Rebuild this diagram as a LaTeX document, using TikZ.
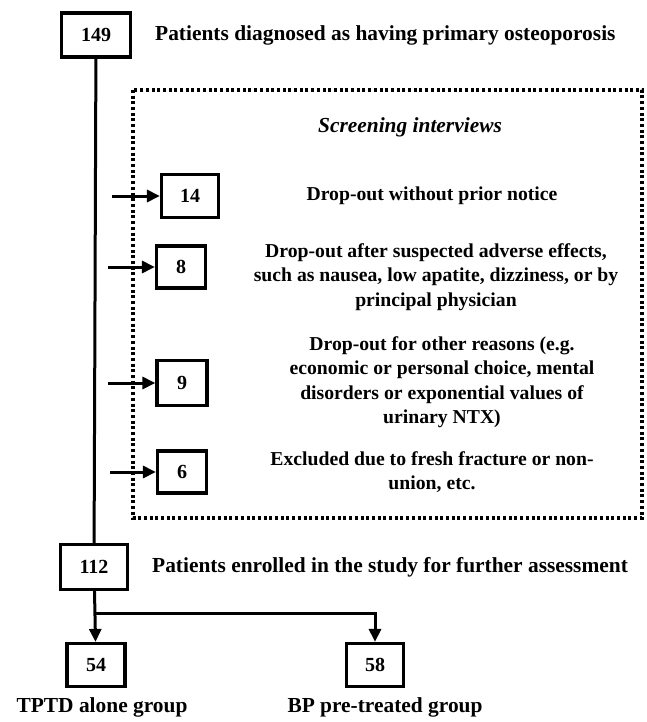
\documentclass[tikz,border=0pt]{standalone}
\usepackage{fontspec}
\setmainfont{Liberation Serif}
\usetikzlibrary{arrows.meta,positioning}

\begin{document}
\begin{tikzpicture}[x=1pt,y=-1pt]
  \tikzset{
    zahl/.style={rectangle, draw=black, line width=3.2pt, inner sep=0pt,
                 minimum width=56pt, minimum height=42pt,
                 font=\bfseries\fontsize{20}{22}\selectfont},
    info/.style={align=center, inner sep=0pt,
                 font=\bfseries\fontsize{19.7}{24.5}\selectfont},
    kopf/.style={inner sep=0pt, font=\bfseries\fontsize{21.4}{24}\selectfont},
    pfeil/.style={-{Triangle[length=13pt,width=12pt]}, line width=3pt},
    linie/.style={line width=3pt}
  }
  \useasboundingbox (0,0) rectangle (647,722);

  % screening frame
  \draw[line width=3.2pt, dash pattern=on 3pt off 2.7pt] (133,90) rectangle (642,518);
  \node[kopf, font=\bfseries\itshape\fontsize{21.4}{24}\selectfont] (screen) at (410,127) {Screening interviews};

  \node[zahl, minimum width=69pt, minimum height=44pt] (n149) at (96,35) {149};
  \node[kopf, anchor=west] (t149) at (155,35) {Patients diagnosed as having primary osteoporosis};

  \node[zahl, minimum width=67pt, minimum height=45pt] (n112) at (94,567) {112};
  \node[kopf, anchor=west] (t112) at (152,567) {Patients enrolled in the study for further assessment};

  \draw[linie] (n149) -- (n112);

  \node[zahl, minimum width=57pt, minimum height=43pt] (n14) at (190,196) {14};
  \node[info] (t14) at (432,196) {Drop-out without prior notice};

  \node[zahl, minimum width=49pt] (n8) at (181,267) {8};
  \node[info] (t8) at (436,277) {Drop-out after suspected adverse effects,\\
    such as nausea, low apatite, dizziness, or by\\ principal physician};

  \node[zahl, minimum width=50pt, minimum height=45pt] (n9) at (182,383) {9};
  \node[info] (t9) at (442,382) {Drop-out for other reasons (e.g.\\
    economic or personal choice, mental\\ disorders or exponential values of\\ urinary NTX)};

  \node[zahl, minimum width=49pt] (n6) at (182,472) {6};
  \node[info] (t6) at (432,472) {Excluded due to fresh fracture or non-\\ union, etc.};

  \coordinate (a14) at (112,196);
  \coordinate (a8) at (108,267);
  \coordinate (a9) at (108,383);
  \coordinate (a6) at (110,472);
  \draw[pfeil] (a14) -- (n14);
  \draw[pfeil] (a8) -- (n8);
  \draw[pfeil] (a9) -- (n9);
  \draw[pfeil] (a6) -- (n6);

  \node[zahl, minimum width=58pt, minimum height=43pt] (n54) at (96,665) {54};
  \node[zahl, minimum width=57pt, minimum height=43pt] (n58) at (375,665) {58};
  \node[kopf, below=9pt of n54, xshift=6pt] (g54) {TPTD alone group};
  \node[kopf, below=9pt of n58, xshift=10pt] (g58) {BP pre-treated group};

  \coordinate (knick) at (375,613);
  \draw[pfeil] (n112) -- (n54);
  \draw[pfeil] (n112.south |- knick) -- (knick) -- (n58);

\end{tikzpicture}
\end{document}
